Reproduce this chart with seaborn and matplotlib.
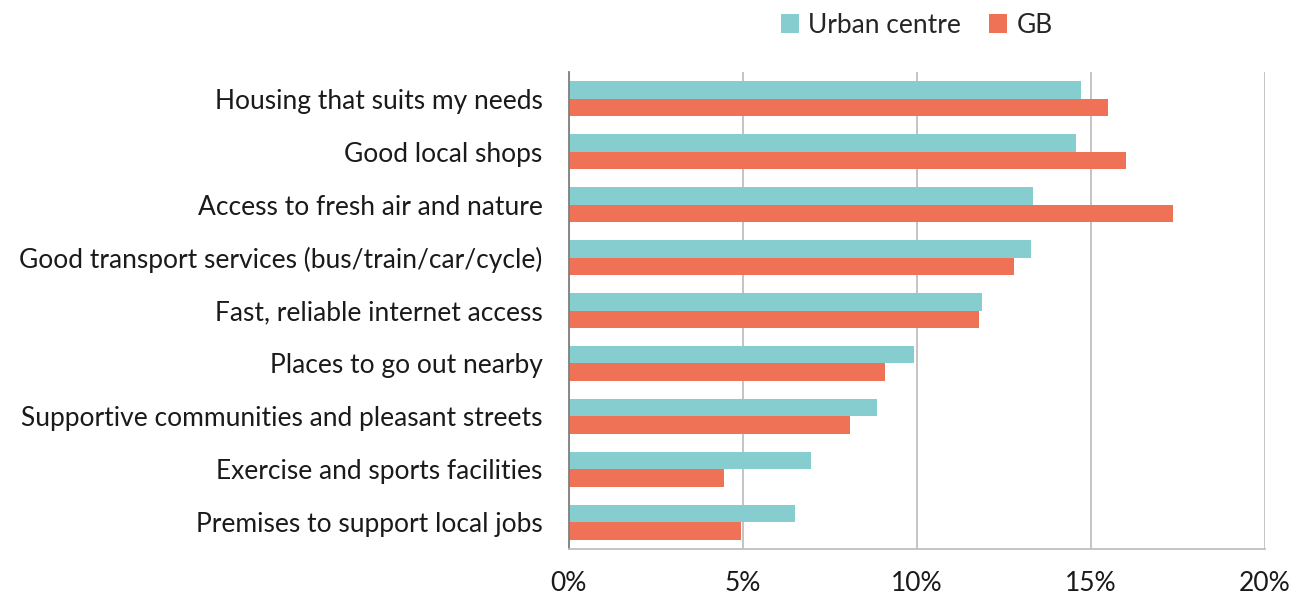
import matplotlib
matplotlib.use("Agg")
import matplotlib.pyplot as plt
import seaborn as sns
import pandas as pd
from matplotlib.ticker import FuncFormatter

categories = [
    "Housing that suits my needs",
    "Good local shops",
    "Access to fresh air and nature",
    "Good transport services (bus/train/car/cycle)",
    "Fast, reliable internet access",
    "Places to go out nearby",
    "Supportive communities and pleasant streets",
    "Exercise and sports facilities",
    "Premises to support local jobs",
]
urban_centre = [14.73, 14.59, 13.33, 13.29, 11.87, 9.93, 8.85, 6.95, 6.49]
gb = [15.50, 16.02, 17.38, 12.79, 11.80, 9.10, 8.08, 4.47, 4.96]
series_names = ["Urban centre", "GB"]
x_ticks = [0, 5, 10, 15, 20]

sns.set_style("white")
plt.rcParams["font.family"] = ["Lato", "DejaVu Sans"]

df = pd.DataFrame({
    "category": categories * 2,
    "value": urban_centre + gb,
    "series": [series_names[0]] * len(categories) + [series_names[1]] * len(categories),
})

fig = plt.figure(figsize=(12.93, 5.96), dpi=100)
ax = fig.add_axes([0.440, 0.079, 0.538, 0.800])

palette = {"Urban centre": "#86CDD0", "GB": "#EF7257"}
sns.barplot(data=df, x="value", y="category", hue="series", orient="h",
            palette=palette, width=0.65, gap=0, ax=ax, legend=True,
            saturation=1, edgecolor="none")

ax.set_xlim(0, 20)
ax.set_ylim(8.5, -0.5)
ax.set_xticks(x_ticks)
ax.xaxis.set_major_formatter(FuncFormatter(lambda v, p: f"{v:.0f}%"))
ax.set_xlabel("")
ax.set_ylabel("")
ax.grid(axis="x", color="#BFBFBF", linewidth=1.3)
ax.set_axisbelow(True)
for s in ["top", "right"]:
    ax.spines[s].set_visible(False)
ax.spines["left"].set_color("#7F7F7F")
ax.spines["left"].set_linewidth(1.3)
ax.spines["bottom"].set_color("#BFBFBF")
ax.spines["bottom"].set_linewidth(1.3)
ax.tick_params(axis="x", length=0, pad=16, labelsize=19, labelcolor="#1A1A1A")
ax.tick_params(axis="y", length=0, pad=19, labelsize=19, labelcolor="#1A1A1A")

handles, labels = ax.get_legend_handles_labels()
ax.get_legend().remove()
fig.legend(handles, labels, loc="center", bbox_to_anchor=(0.709, 0.958), ncol=2,
           frameon=False, fontsize=19, handlelength=0.7, handleheight=0.7,
           handletextpad=0.35, columnspacing=1.05)

fig.savefig("out.png", dpi=100)
